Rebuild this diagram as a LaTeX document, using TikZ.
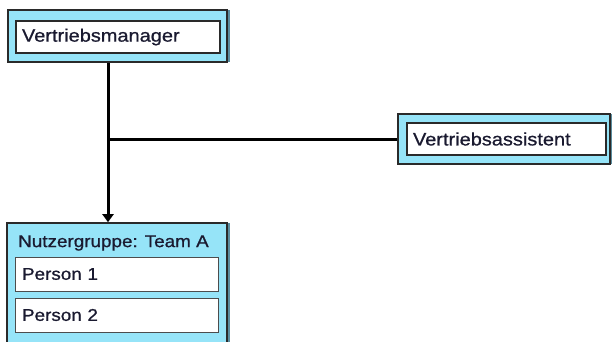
\documentclass[tikz,border=0pt]{standalone}
\usepackage{fontspec}
\setmainfont{Liberation Sans}[FakeStretch=1.11,FakeBold=0.8]
\usepackage{tikz}
\usetikzlibrary{arrows.meta,positioning,shadows}
\definecolor{roleblue}{HTML}{96E4F8}
\definecolor{roleshade}{HTML}{5A8C9E}
\definecolor{frameink}{HTML}{2A2A2A}
\definecolor{nameink}{HTML}{1A1A30}
\tikzset{
  rolebox/.style={draw=frameink, line width=1.6pt, fill=roleblue,
                  inner sep=0pt, drop shadow={shadow xshift=2.5pt,
                  shadow yshift=0pt, fill=roleshade, opacity=1}},
  namebox/.style={draw=frameink, line width=1.2pt, fill=white,
                  inner xsep=6pt, inner ysep=0pt, align=left,
                  text=nameink, font=\fontsize{18pt}{21pt}\selectfont},
  membox/.style={draw=black!70, line width=0.9pt, fill=white,
                 inner xsep=7pt, inner ysep=0pt, align=left,
                 text=nameink, font=\fontsize{17pt}{20pt}\selectfont,
                 minimum height=34pt, text width=189pt},
  grptitle/.style={text=nameink, font=\fontsize{17pt}{20pt}\selectfont,
                   inner sep=0pt},
  link/.style={line width=3pt, draw=black},
  linkarrow/.style={link, -{Triangle[length=8pt,width=11pt]}},
}

\begin{document}
\begin{tikzpicture}[x=1pt,y=-1pt]
\clip (0,0) rectangle (612,341);

% managers
\node[rolebox, minimum width=219pt, minimum height=52pt] at (117.5,36) (mgrbg) {};
\node[namebox, text width=192pt, minimum height=32pt] at (118,37) (mgr)
  {Vertriebsmanager};
\node[rolebox, minimum width=212pt, minimum height=50pt] at (504,139) (asstbg) {};
\node[namebox, text width=187pt, minimum height=32pt] at (506.5,139) (asst)
  {Vertriebsassistent};

% user group
\node[rolebox, minimum width=220pt, minimum height=150pt] at (117,298) (grp) {};
\node[grptitle, anchor=west] at (18,243) (grptxt) {Nutzergruppe: Team A};
\foreach \y/\n in {274/1, 315/2}{
  \node[membox] at (116.5,\y) (p\n) {Person \n};}

\coordinate (j) at (108,139);
\draw[link] (asstbg.west) -- (j);
\draw[linkarrow] (j |- mgrbg.south) -- (j |- grp.north);
\end{tikzpicture}
\end{document}
